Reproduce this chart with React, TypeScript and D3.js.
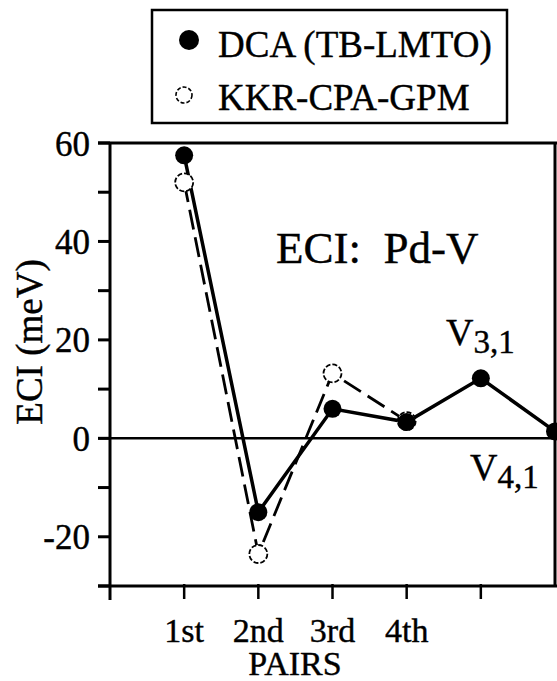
import React, { useEffect } from "react";
import * as d3 from "d3";

// pair number (x) and ECI values in meV
const pairPos = [1, 2, 3, 4, 5, 6];
const pairLabels = ["1st", "2nd", "3rd", "4th"];
const dcaValues = [57.5, -15, 6, 3.3, 12.2, 1.4];
const kkrPos = [1, 2, 3, 4];
const kkrValues = [52, -23.5, 13.2, 3.5];
const yMajorTicks = [-20, 0, 20, 40, 60];
const yMinorTicks = [-30, -10, 10, 30, 50];
const xTicks = [0, 1, 2, 3, 4, 5, 6];

const W = 557;
const H = 681;
const FONT = "Liberation Serif, Times New Roman, serif";
const txt = { fontFamily: FONT, fill: "#000", stroke: "#000", strokeWidth: 0.4 };

const App = () => {
  useEffect(() => {
    document.body.style.margin = "0";
  }, []);

  const x = d3.scaleLinear().domain([0, 6]).range([110, 555]);
  const y = d3.scaleLinear().domain([-30, 60]).range([586, 143]);

  const line = d3
    .line<number>()
    .x((d, i) => x(pairPos[i]))
    .y((d) => y(d));
  const kkrLine = d3
    .line<number>()
    .x((d, i) => x(kkrPos[i]))
    .y((d) => y(d));

  const x0 = x(0);
  const x6 = x(6);

  return (
    <svg width={W} height={H} style={{ display: "block", background: "#fff" }}>
      {/* legend */}
      <rect x={152} y={10} width={355} height={113} fill="none" stroke="#000" strokeWidth={2.5} />
      <circle cx={189} cy={40} r={10} fill="#000" />
      <text x={218} y={57} fontSize={37} style={txt}>DCA (TB-LMTO)</text>
      <circle cx={184} cy={95} r={8} fill="none" stroke="#000" strokeWidth={1.6} strokeDasharray="4,2" />
      <text x={218} y={110} fontSize={37} style={txt}>KKR-CPA-GPM</text>

      {/* frame */}
      <line x1={x0} x2={x0} y1={y(60)} y2={y(-30) + 14} stroke="#000" strokeWidth={3} />
      <line x1={x0 - 12} x2={x6 + 2} y1={y(60)} y2={y(60)} stroke="#000" strokeWidth={3} />
      <line x1={x6} x2={x6} y1={y(60)} y2={y(-30)} stroke="#000" strokeWidth={3} />
      <line x1={x0 - 12} x2={x6 + 2} y1={y(-30)} y2={y(-30)} stroke="#000" strokeWidth={3} />
      <line x1={x0 - 12} x2={x6 + 2} y1={y(0)} y2={y(0)} stroke="#000" strokeWidth={2.5} />

      {/* y ticks */}
      {[...yMajorTicks, ...yMinorTicks].map((t) => (
        <line key={"yt" + t} x1={x0 - 12} x2={x0} y1={y(t)} y2={y(t)} stroke="#000" strokeWidth={3} />
      ))}
      {yMajorTicks.map((t) => (
        <text key={"yl" + t} x={90} y={y(t)} dy="0.36em" fontSize={35} textAnchor="end" style={txt}>
          {t}
        </text>
      ))}

      {/* x ticks */}
      {xTicks.slice(1, 6).map((t) => (
        <line key={"xt" + t} x1={x(t)} x2={x(t)} y1={y(-30) - 2} y2={y(-30) + 13} stroke="#000" strokeWidth={2.5} />
      ))}
      {pairLabels.map((l, i) => (
        <text key={l} x={x(i + 1)} y={642} fontSize={34} textAnchor="middle" style={txt}>
          {l}
        </text>
      ))}
      <text x={295} y={675} fontSize={34} textAnchor="middle" style={txt}>PAIRS</text>
      <text transform={`translate(42,342) rotate(-90)`} fontSize={37} textAnchor="middle" style={txt}>
        ECI (meV)
      </text>

      <text x={276} y={263} fontSize={45} xmlSpace="preserve" style={txt}>ECI:  Pd-V</text>

      {/* data */}
      <path d={kkrLine(kkrValues) || ""} fill="none" stroke="#000" strokeWidth={2.8} strokeDasharray="20,8" />
      <path d={line(dcaValues) || ""} fill="none" stroke="#000" strokeWidth={3.5} />
      {kkrValues.map((v, i) => (
        <circle key={"k" + i} cx={x(kkrPos[i])} cy={y(v)} r={9} fill="#fff" stroke="#000" strokeWidth={1.8} strokeDasharray="5,2" />
      ))}
      {dcaValues.map((v, i) => (
        <circle key={"d" + i} cx={x(pairPos[i])} cy={y(v)} r={9} fill="#000" />
      ))}

      {/* annotations */}
      <text x={446} y={345} fontSize={38} style={txt}>
        V<tspan dy={8} fontSize={33}>3,1</tspan>
      </text>
      <text x={470} y={480} fontSize={38} style={txt}>
        V<tspan dy={8} fontSize={33}>4,1</tspan>
      </text>
    </svg>
  );
};

export default App;
